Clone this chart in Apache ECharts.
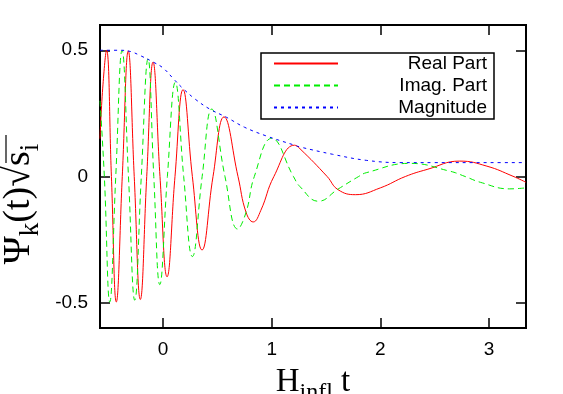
<!DOCTYPE html>
<html>
<head>
<meta charset="utf-8">
<script src="https://cdn.jsdelivr.net/npm/echarts@6/dist/echarts.min.js"></script>
<style>
  html, body { margin: 0; padding: 0; background: #fff; }
  #chart { width: 563px; height: 394px; }
</style>
</head>
<body>
<div id="chart"></div>
<script>
// values
const realT = [-0.58, -0.555, -0.52, -0.475, -0.43, -0.375, -0.32, -0.265, -0.209, -0.15, -0.092, -0.028,
  0.037, 0.11, 0.184, 0.27, 0.359, 0.46, 0.561, 0.69, 0.764, 0.83, 0.90, 1.02, 1.21, 1.26, 1.51, 1.61,
  1.77, 2.0, 2.23, 2.43, 2.73, 2.98, 3.22, 3.34]
const realV = [0.15, 0.35, 0.5, 0.0, -0.497, 0.0, 0.497, 0.0, -0.487, 0.0, 0.453, 0.0,
  -0.397, 0.0, 0.344, 0.0, -0.291, 0.0, 0.236, 0.0, -0.142, -0.18, -0.134, 0.0, 0.124, 0.11, 0.0, -0.052,
  -0.072, -0.045, 0.0, 0.028, 0.061, 0.041, 0.001, -0.023]

const imagT = [-0.58, -0.54, -0.49, -0.435, -0.377, -0.318, -0.26, -0.2, -0.138, -0.085, -0.03, 0.04,
  0.113, 0.19, 0.27, 0.36, 0.448, 0.57, 0.687, 0.764, 0.84, 1.0, 1.2, 1.26, 1.43, 1.61,
  1.8, 1.87, 2.27, 2.64, 2.78, 2.92, 3.19, 3.34]
const imagV = [0.3, 0.0, -0.497, 0.0, 0.499, 0.0, -0.49, 0.0, 0.466, 0.0, -0.428, 0.0,
  0.373, 0.0, -0.317, 0.0, 0.267, 0.0, -0.208, -0.142, 0.0, 0.151, 0.0, -0.04, -0.098, -0.05,
  0.0, 0.015, 0.052, 0.021, 0.0, -0.023, -0.049, -0.045]

const magT = [-0.58, -0.4, -0.3, -0.21, -0.09, 0.0, 0.1, 0.187, 0.3, 0.43, 0.586, 0.75, 0.954,
  1.21, 1.26, 1.56, 1.87, 2.18, 2.5, 3.0, 3.34]
const magV = [0.5, 0.5, 0.495, 0.479, 0.453, 0.43, 0.385, 0.347, 0.305, 0.267, 0.234, 0.195, 0.16,
  0.124, 0.117, 0.088, 0.064, 0.055, 0.055, 0.055, 0.055]

const xTicks = [0, 1, 2, 3]
const yTicks = [-0.5, 0, 0.5]
const seriesNames = ['Real Part', 'Imag. Part', 'Magnitude']

const pairs = (xs, ys) => xs.map((x, i) => [x, ys[i]])

const chart = echarts.init(document.getElementById('chart'), null, { renderer: 'canvas' })

const sansFont = 'Liberation Sans, Arial, sans-serif'
const serifFont = 'Liberation Serif, Times New Roman, serif'

const tickStyle = { inside: true, length: 10, lineStyle: { color: '#000', width: 1.5 } }
const hiddenLine = { show: false, onZero: false }

// main text + lowered subscript
const titleRich = (big, small) => ({
  m: { fontSize: big, fontFamily: serifFont, color: '#000', verticalAlign: 'bottom', padding: [0, 0, 6, 0] },
  s: { fontSize: small, fontFamily: serifFont, color: '#000', verticalAlign: 'bottom' }
})

const option = {
  animation: false,
  backgroundColor: '#fff',
  grid: {
    left: 100, right: 37, top: 25, bottom: 66,
    outerBoundsMode: 'none',
    containLabel: false,
    show: true, borderColor: '#000', borderWidth: 2
  },
  legend: {
    orient: 'vertical',
    left: 261,
    top: 53,
    itemWidth: 64,
    itemHeight: 14,
    itemGap: 3,
    padding: [1, 7, 2, 12],
    borderColor: '#000',
    borderWidth: 1.5,
    data: seriesNames,
    // hide the marker drawn on the line sample
    itemStyle: { opacity: 0 },
    formatter: name => `{t|${name}}`,
    textStyle: {
      rich: {
        t: { width: 144, align: 'right', fontSize: 19, fontFamily: sansFont, color: '#000' }
      }
    }
  },
  // overline of the square root in the y title
  graphic: [
    { type: 'line', shape: { x1: 6, y1: 135, x2: 6, y2: 163 }, style: { stroke: '#000', lineWidth: 1.2 } }
  ],
  xAxis: [
    {
      type: 'value', min: -0.58, max: 3.34, position: 'bottom',
      splitLine: { show: false },
      axisLine: hiddenLine,
      axisTick: { ...tickStyle, customValues: xTicks },
      axisLabel: { customValues: xTicks, fontSize: 19, fontFamily: sansFont, color: '#000', margin: 12 },
      name: '{m|H}{s|infl}{m| t}',
      nameLocation: 'middle',
      nameGap: 38,
      nameTextStyle: { rich: titleRich(33, 24) }
    },
    {
      type: 'value', min: -0.58, max: 3.34, position: 'top',
      splitLine: { show: false },
      axisLine: hiddenLine,
      axisTick: { ...tickStyle, customValues: xTicks },
      axisLabel: { show: false }
    }
  ],
  yAxis: [
    {
      type: 'value', min: -0.6, max: 0.6, position: 'left',
      splitLine: { show: false },
      axisLine: hiddenLine,
      axisTick: { ...tickStyle, customValues: yTicks },
      axisLabel: {
        customValues: yTicks, fontSize: 19, fontFamily: sansFont, color: '#000', margin: 12,
        formatter: v => (v === 0 ? '0' : String(v))
      },
      name: '{m|Ψ}{s|k}{m|(t)√s}{s|i}',
      nameLocation: 'middle',
      nameRotate: 90,
      nameGap: 51,
      nameTextStyle: { rich: titleRich(38, 27), padding: [0, 55, 0, 0] }
    },
    {
      type: 'value', min: -0.6, max: 0.6, position: 'right',
      splitLine: { show: false },
      axisLine: hiddenLine,
      axisTick: { ...tickStyle, customValues: yTicks },
      axisLabel: { show: false }
    }
  ],
  series: [
    {
      name: seriesNames[0], type: 'line', xAxisIndex: 0, yAxisIndex: 0,
      data: pairs(realT, realV), symbol: 'none', smooth: 0.45,
      itemStyle: { color: '#ff0000' },
      lineStyle: { color: '#ff0000', width: 1 }
    },
    {
      name: seriesNames[1], type: 'line', xAxisIndex: 0, yAxisIndex: 0,
      data: pairs(imagT, imagV), symbol: 'none', smooth: 0.45,
      itemStyle: { color: '#00ee00' },
      lineStyle: { color: '#00ee00', width: 1, type: [6, 4] }
    },
    {
      name: seriesNames[2], type: 'line', xAxisIndex: 0, yAxisIndex: 0,
      data: pairs(magT, magV), symbol: 'none', smooth: 0.4,
      itemStyle: { color: '#0000ff' },
      lineStyle: { color: '#0000ff', width: 1, type: [3, 4] }
    }
  ]
}

chart.setOption(option)
</script>
</body>
</html>
